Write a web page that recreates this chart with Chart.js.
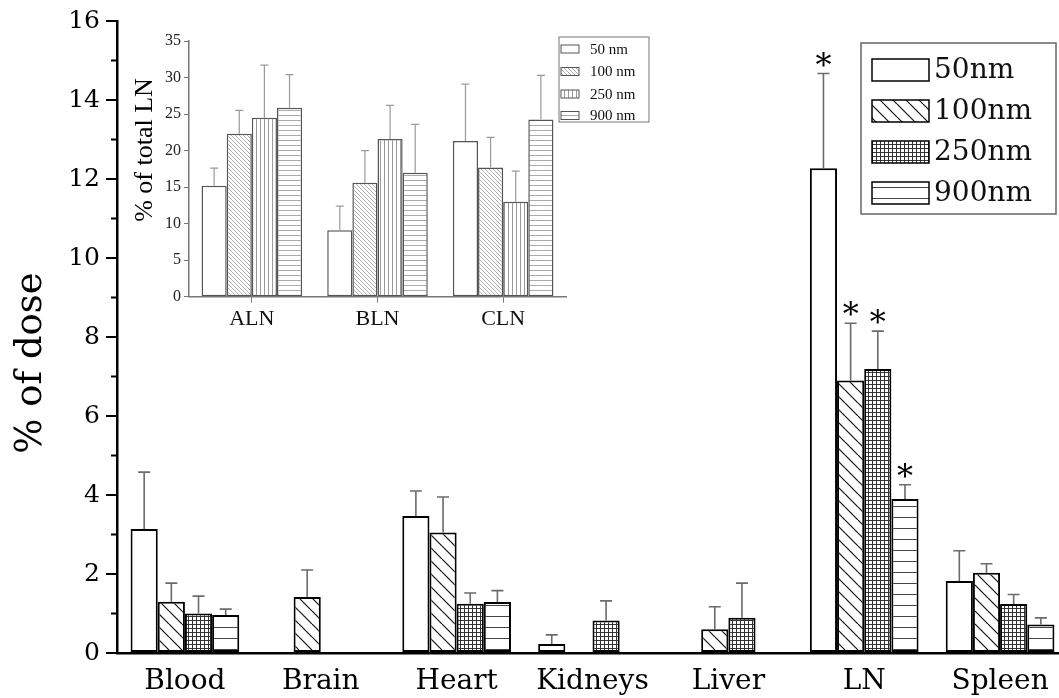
<!DOCTYPE html>
<html>
<head>
<meta charset="utf-8">
<script src="https://cdn.jsdelivr.net/npm/chart.js@4.4.0/dist/chart.umd.min.js"></script>
<style>
  html, body { margin: 0; padding: 0; background: #fff; overflow: hidden; }
  #wrap { position: relative; width: 1068px; height: 698px; }
  .box { position: absolute; }
</style>
</head>
<body>
<div id="wrap">
  <div class="box" style="left:0;top:0;width:1068px;height:698px"><canvas id="main"></canvas></div>
  <div class="box" style="left:120px;top:20px;width:540px;height:330px"><canvas id="inset"></canvas></div>
</div>
<script>
// main chart data (% of dose), error = upper SD
const organs = ['Blood', 'Brain', 'Heart', 'Kidneys', 'Liver', 'LN', 'Spleen'];
const dose50 = [3.14, null, 3.47, 0.23, null, 12.27, 1.82];
const dose50Err = [1.44, null, 0.63, 0.23, null, 2.40, 0.77];
const dose100 = [1.30, 1.42, 3.05, null, 0.60, 6.90, 2.03];
const dose100Err = [0.47, 0.68, 0.90, null, 0.57, 1.45, 0.23];
const dose250 = [1.00, null, 1.25, 0.82, 0.89, 7.19, 1.24];
const dose250Err = [0.44, null, 0.27, 0.50, 0.88, 0.96, 0.24];
const dose900 = [0.96, null, 1.29, null, null, 3.90, 0.72];
const dose900Err = [0.15, null, 0.29, null, null, 0.36, 0.17];
const starred = ['LN'];
const doseTicks = [0, 2, 4, 6, 8, 10, 12, 14, 16];

// inset data (% of total LN)
const nodes = ['ALN', 'BLN', 'CLN'];
const ln50 = [15.2, 9.1, 21.3];
const ln50Err = [2.4, 3.3, 7.8];
const ln100 = [22.3, 15.6, 17.7];
const ln100Err = [3.2, 4.4, 4.1];
const ln250 = [24.5, 21.6, 13.0];
const ln250Err = [7.2, 4.6, 4.2];
const ln900 = [25.85, 16.96, 24.25];
const ln900Err = [4.55, 6.64, 6.05];
const sizeNames = ['50nm', '100nm', '250nm', '900nm'];
const insetNames = ['50 nm', '100 nm', '250 nm', '900 nm'];

// --- fill patterns ---
function tile(w, h, draw) {
  const c = document.createElement('canvas');
  c.width = w; c.height = h;
  const g = c.getContext('2d');
  draw(g, w, h);
  return g.createPattern(c, 'repeat');
}
function diag(s, color, lw) {
  return tile(s, s, (g) => {
    g.fillStyle = '#fff'; g.fillRect(0, 0, s, s);
    g.strokeStyle = color; g.lineWidth = lw;
    for (let k = -1; k <= 1; k++) {
      g.beginPath(); g.moveTo(k * s, 0); g.lineTo(k * s + s, s); g.stroke();
    }
  });
}
function grid(s, color) {
  return tile(s, s, (g) => {
    g.fillStyle = '#fff'; g.fillRect(0, 0, s, s);
    g.fillStyle = color; g.fillRect(0, 0, s, 1); g.fillRect(0, 0, 1, s);
  });
}
function hlines(s, color) {
  return tile(4, s, (g) => {
    g.fillStyle = '#fff'; g.fillRect(0, 0, 4, s);
    g.fillStyle = color; g.fillRect(0, 0, 4, 1);
  });
}
function vlines(s, color) {
  return tile(s, 4, (g) => {
    g.fillStyle = '#fff'; g.fillRect(0, 0, s, 4);
    g.fillStyle = color; g.fillRect(0, 0, 1, 4);
  });
}

const mainFills = ['#fff', diag(13, '#111', 1.2), grid(4, '#333'), hlines(11, '#444')];
const insetFills = ['#fff', diag(4, '#999', 0.8), vlines(4, '#999'), hlines(5, '#aaa')];

// error bars, stars, minor ticks, legend and rotated title
const decor = {
  id: 'decor',
  afterDatasetsDraw(chart, args, o) {
    const ctx = chart.ctx, y = chart.scales.y;
    ctx.save();
    chart.data.datasets.forEach((ds, i) => {
      const meta = chart.getDatasetMeta(i);
      ds.err.forEach((e, j) => {
        const v = ds.data[j];
        if (v == null || e == null) return;
        const bar = meta.data[j];
        const top = y.getPixelForValue(v + e);
        ctx.strokeStyle = o.errColor; ctx.lineWidth = o.errWidth;
        ctx.beginPath();
        ctx.moveTo(bar.x, bar.y); ctx.lineTo(bar.x, top);
        ctx.moveTo(bar.x - o.cap, top); ctx.lineTo(bar.x + o.cap, top);
        ctx.stroke();
        if (ds.stars && ds.stars.includes(chart.data.labels[j])) {
          ctx.fillStyle = '#000'; ctx.font = o.starFont;
          ctx.textAlign = 'center'; ctx.textBaseline = 'alphabetic';
          ctx.fillText('*', bar.x, top + o.starShift);
        }
      });
    });
    ctx.restore();
  },
  afterDraw(chart, args, o) {
    const ctx = chart.ctx, y = chart.scales.y, left = chart.chartArea.left;
    ctx.save();
    if (o.minor) {
      ctx.strokeStyle = '#000'; ctx.lineWidth = 2;
      o.minor.forEach(v => {
        const py = y.getPixelForValue(v);
        ctx.beginPath(); ctx.moveTo(left - 6, py); ctx.lineTo(left, py); ctx.stroke();
      });
    }
    // legend
    const L = o.legend;
    ctx.strokeStyle = L.border; ctx.lineWidth = L.borderWidth;
    ctx.strokeRect(L.x, L.y, L.w, L.h);
    L.names.forEach((name, i) => {
      const cy = L.rows[i];
      ctx.fillStyle = chart.data.datasets[i].backgroundColor;
      ctx.fillRect(L.sx, cy - L.sh / 2, L.sw, L.sh);
      ctx.strokeStyle = L.swBorder; ctx.lineWidth = L.swWidth;
      ctx.strokeRect(L.sx, cy - L.sh / 2, L.sw, L.sh);
      ctx.fillStyle = '#111'; ctx.font = L.font;
      ctx.textAlign = 'left'; ctx.textBaseline = 'middle';
      ctx.fillText(name, L.tx, cy + 1);
    });
    // axis title
    const T = o.title;
    ctx.translate(T.x, T.y); ctx.rotate(-Math.PI / 2);
    ctx.fillStyle = '#000'; ctx.font = T.font;
    ctx.textAlign = 'center'; ctx.textBaseline = 'middle';
    ctx.fillText(T.text, 0, 0);
    ctx.restore();
  }
};

const mainSeries = [dose50, dose100, dose250, dose900];
const mainErr = [dose50Err, dose100Err, dose250Err, dose900Err];

new Chart(document.getElementById('main'), {
  type: 'bar',
  data: {
    labels: organs,
    datasets: mainSeries.map((d, i) => ({
      label: sizeNames[i],
      data: d,
      err: mainErr[i],
      stars: starred,
      backgroundColor: mainFills[i],
      borderColor: '#000',
      borderWidth: 2,
      borderSkipped: false,
      categoryPercentage: 0.8,
      barPercentage: 1
    }))
  },
  plugins: [decor],
  options: {
    responsive: true,
    maintainAspectRatio: false,
    animation: false,
    layout: { padding: { top: 21, right: 0, left: 0, bottom: 0 } },
    plugins: {
      legend: { display: false },
      tooltip: { enabled: false },
      decor: {
        errColor: '#6b6b6b', errWidth: 1.6, cap: 6,
        starFont: '32px "DejaVu Serif"', starShift: 2,
        minor: [1, 3, 5, 7, 9, 11, 13, 15],
        legend: {
          x: 861, y: 43, w: 195, h: 171, border: '#666', borderWidth: 1.5,
          rows: [70, 111, 152, 193], sx: 872, sw: 57, sh: 22,
          swBorder: '#000', swWidth: 1.5, tx: 934,
          font: '28px "DejaVu Serif"', names: sizeNames
        },
        title: { text: '% of dose', x: 31, y: 363, font: '37px "DejaVu Serif"' }
      }
    },
    scales: {
      x: {
        grid: { display: false },
        border: { display: true, color: '#000', width: 2.5 },
        ticks: { color: '#000', font: { family: 'DejaVu Serif', size: 28 }, padding: 4 },
        afterFit: s => { s.height = 45; }
      },
      y: {
        min: 0, max: 16,
        afterBuildTicks: s => { s.ticks = doseTicks.map(v => ({ value: v })); },
        grid: { drawOnChartArea: false, tickLength: 11, color: '#000', lineWidth: 2 },
        border: { color: '#000', width: 2.5 },
        ticks: { color: '#000', font: { family: 'DejaVu Serif', size: 25 }, padding: 6 },
        afterFit: s => { s.width = 117; }
      }
    }
  }
});

const insetSeries = [ln50, ln100, ln250, ln900];
const insetErr = [ln50Err, ln100Err, ln250Err, ln900Err];

new Chart(document.getElementById('inset'), {
  type: 'bar',
  data: {
    labels: nodes,
    datasets: insetSeries.map((d, i) => ({
      label: insetNames[i],
      data: d,
      err: insetErr[i],
      backgroundColor: insetFills[i],
      borderColor: '#555',
      borderWidth: 1.5,
      borderSkipped: false,
      categoryPercentage: 0.8,
      barPercentage: 1
    }))
  },
  plugins: [decor],
  options: {
    responsive: true,
    maintainAspectRatio: false,
    animation: false,
    layout: { padding: { top: 21, right: 94, left: 0, bottom: 0 } },
    plugins: {
      legend: { display: false },
      tooltip: { enabled: false },
      decor: {
        errColor: '#9a9a9a', errWidth: 1.2, cap: 4,
        legend: {
          x: 439, y: 17, w: 90, h: 85, border: '#777', borderWidth: 1,
          rows: [29, 51.5, 74, 95.5], sx: 441, sw: 18, sh: 8,
          swBorder: '#555', swWidth: 1, tx: 470,
          font: '15px "Liberation Serif"', names: insetNames
        },
        title: { text: '% of total LN', x: 25, y: 130, font: '26px "Liberation Serif"' }
      }
    },
    scales: {
      x: {
        grid: { drawOnChartArea: false, offset: false, tickLength: 6, color: '#777', lineWidth: 1 },
        border: { display: true, color: '#777', width: 1.5 },
        ticks: { color: '#111', font: { family: 'Liberation Serif', size: 22 }, padding: 3 },
        afterFit: s => { s.height = 53.3; }
      },
      y: {
        min: 0, max: 35,
        ticks: { stepSize: 5, color: '#222', font: { family: 'Liberation Serif', size: 16 }, padding: 3 },
        grid: { drawOnChartArea: false, tickLength: 5, color: '#777', lineWidth: 1 },
        border: { color: '#777', width: 1.5 },
        afterFit: s => { s.width = 69; }
      }
    }
  }
});
</script>
</body>
</html>
